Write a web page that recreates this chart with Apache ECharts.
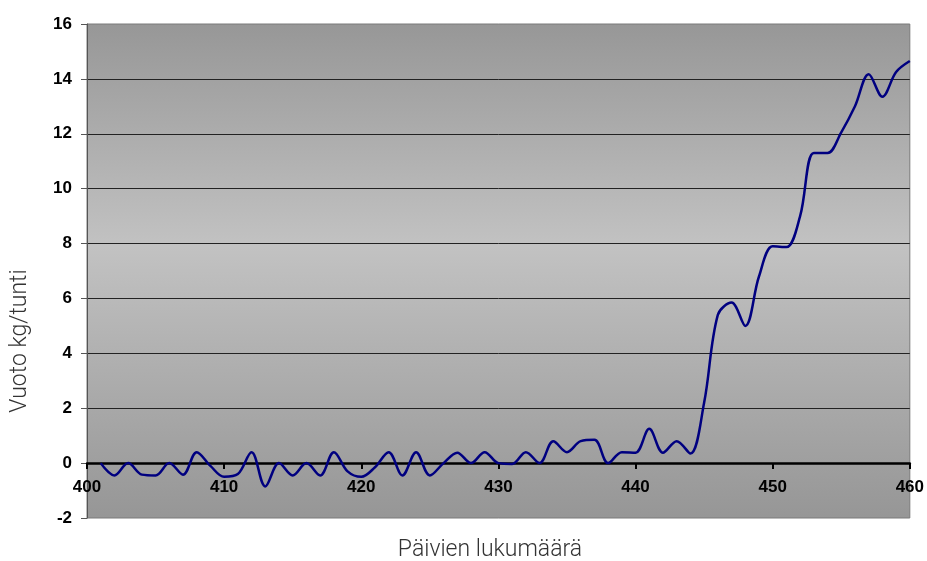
<!DOCTYPE html>
<html>
<head>
<meta charset="utf-8">
<script src="https://cdn.jsdelivr.net/npm/echarts@6/dist/echarts.min.js"></script>
<style>html,body{margin:0;padding:0;background:#fff}#c{width:927px;height:561px}</style>
</head>
<body>
<div id="c"></div>
<script>
var days = [401,402,403,404,405,406,407,408,409,410,411,412,413,414,415,416,417,418,419,420,421,422,423,424,425,426,427,428,429,430,431,432,433,434,435,436,437,438,439,440,441,442,443,444,445,446,447,448,449,450,451,452,453,454,455,456,457,458,459,460];
var flow = [0,-0.45,0,-0.42,-0.45,0,-0.42,0.4,-0.1,-0.5,-0.4,0.4,-0.85,0,-0.45,0,-0.45,0.4,-0.3,-0.5,-0.15,0.4,-0.45,0.4,-0.45,0,0.38,0,0.4,0,-0.03,0.4,0,0.8,0.4,0.8,0.85,0,0.4,0.38,1.25,0.38,0.8,0.35,2.2,5.4,5.85,5.0,6.8,7.9,7.87,9.0,11.3,11.3,12.05,13.0,14.17,13.35,14.25,14.65];
var xTicks = {min: 400, max: 460, interval: 10};
var yTicks = {min: -2, max: 16, interval: 2};

var chart = echarts.init(document.getElementById('c'), null, {renderer: 'canvas'});
var pts = days.map(function (d, i) { return [d, flow[i]]; });
var gridTop = 24, gridBottom = 43, plotH = 561 - gridTop - gridBottom;
var zeroShift = plotH * (0 - yTicks.min) / (yTicks.max - yTicks.min);
chart.setOption({
  animation: false,
  grid: {
    left: 87, right: 16, top: gridTop, bottom: gridBottom,
    show: true,
    borderColor: '#7a7a7a', borderWidth: 1,
    backgroundColor: {
      type: 'linear', x: 0, y: 0, x2: 0, y2: 1,
      colorStops: [
        {offset: 0, color: '#979797'},
        {offset: 0.45, color: '#c2c2c2'},
        {offset: 1, color: '#969696'}
      ]
    }
  },
  xAxis: {
    type: 'value',
    position: 'bottom',
    offset: -zeroShift,
    min: xTicks.min, max: xTicks.max, interval: xTicks.interval,
    axisLine: {show: true, onZero: false, lineStyle: {color: '#000', width: 2.5}},
    axisTick: {show: true, length: 6, lineStyle: {color: '#000', width: 2}},
    axisLabel: {margin: 16, color: '#000', fontFamily: 'Liberation Sans', fontWeight: 'bold', fontSize: 17},
    splitLine: {show: false},
    z: 4
  },
  yAxis: {
    type: 'value',
    min: yTicks.min, max: yTicks.max, interval: yTicks.interval,
    axisLine: {show: true, lineStyle: {color: '#555', width: 1}},
    axisTick: {show: true, length: 6, lineStyle: {color: '#555'}},
    axisLabel: {margin: 15, color: '#000', fontFamily: 'Liberation Sans', fontWeight: 'bold', fontSize: 17},
    splitLine: {show: true, showMinLine: false, showMaxLine: false, lineStyle: {color: '#222', width: 1}}
  },
  graphic: [
    {type: 'text', x: 490, y: 550, style: {text: 'Päivien lukumäärä', font: '300 23px Roboto', fill: '#333', textAlign: 'center', textVerticalAlign: 'middle'}},
    {type: 'text', x: 20, y: 341, rotation: Math.PI / 2, style: {text: 'Vuoto kg/tunti', font: '300 23px Roboto', fill: '#333', textAlign: 'center', textVerticalAlign: 'middle'}}
  ],
  series: [{
    type: 'line',
    data: pts,
    smooth: 0.35,
    showSymbol: false,
    lineStyle: {color: '#000080', width: 2.5},
    z: 5
  }]
});
</script>
</body>
</html>
